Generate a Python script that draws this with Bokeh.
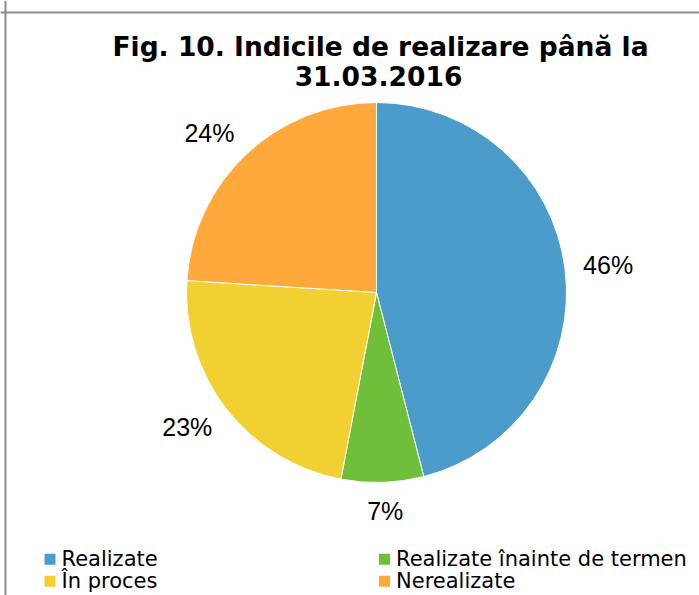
import math
from bokeh.plotting import figure
from bokeh.models import Range1d, Span, ColumnDataSource
from bokeh.core.properties import value
from bokeh.embed import file_html
from bokeh.resources import INLINE

# ---- data ----
categories = ["Realizate", "Realizate înainte de termen", "În proces", "Nerealizate"]
percents = [46, 7, 23, 24]
colors = ["#4B9CCB", "#70BF3A", "#F2D031", "#FFA83C"]
title_lines = ["Fig. 10. Indicile de realizare până la", "31.03.2016"]

# ---- layout (pixel coordinates; y measured downward, stored negated) ----
W, H = 699, 595
CX, CY, R = 376, 292, 190
LABEL_FS = 25
LABEL_GAP = 20
TITLE_FS = 26.5
LEGEND_FS = 21

p = figure(width=W, height=H,
           x_range=Range1d(0, W), y_range=Range1d(-H, 0),
           x_axis_type=None, y_axis_type=None,
           output_backend="svg", toolbar_location=None,
           min_border=0, outline_line_color=None,
           background_fill_color="white", border_fill_color="white")

# chart border (left and top edges visible)
p.add_layout(Span(location=5, dimension="height", line_color="#8C8C8C", line_width=2))
p.add_layout(Span(location=-12, dimension="width", line_color="#8C8C8C", line_width=2))

# ---- pie ----
total = float(sum(percents))
starts, ends, lx, ly, ltxt = [], [], [], [], []
cum = 0.0
for v in percents:
    a0 = math.pi / 2 - 2 * math.pi * cum / total
    cum += v
    a1 = math.pi / 2 - 2 * math.pi * cum / total
    starts.append(a0)
    ends.append(a1)
    mid = (a0 + a1) / 2
    dx, dy = math.cos(mid), math.sin(mid)
    t = f"{v}%"
    half_w = 0.5 * LABEL_FS * (0.556 * (len(t) - 1) + 0.889) * 0.93
    half_h = 0.5 * LABEL_FS * 0.72
    px = CX + (R + LABEL_GAP) * dx
    py = -CY + (R + LABEL_GAP) * dy
    lx.append(px + half_w * max(-1.0, min(1.0, 4 * dx)))
    ly.append(py + half_h * dy)
    ltxt.append(t)

pie_src = ColumnDataSource(dict(start=starts, end=ends, color=colors, cat=categories))
p.wedge(x=CX, y=-CY, radius=R, start_angle="start", end_angle="end",
        direction="clock", fill_color="color", line_color="white", line_width=1,
        source=pie_src)

p.text(x=lx, y=ly, text=ltxt, text_font=value("Liberation Sans"),
       text_font_size=f"{LABEL_FS}px", text_align="center", text_baseline="middle",
       text_color="#000000")

# ---- title (two lines, baselines at 55 and 85) ----
title_base = [55, 85]
p.text(x=[380, 378], y=[-(b - 0.346 * TITLE_FS) for b in title_base], text=title_lines,
       text_font=value("DejaVu Sans"), text_font_style="bold",
       text_font_size=f"{TITLE_FS}px", text_align="center", text_baseline="middle",
       text_color="#000000")

# ---- legend (2 columns) ----
col_x = [49.5, 384]
row_base = [566, 588]
sq_x, sq_y, tx, ty = [], [], [], []
for i, cat in enumerate(categories):
    c, r = i % 2, i // 2
    mid_y = row_base[r] - 0.346 * LEGEND_FS
    sq_x.append(col_x[c])
    sq_y.append(-mid_y)
    tx.append(col_x[c] + 11.5)
    ty.append(-mid_y)
p.scatter(x=sq_x, y=sq_y, marker="square", size=11, fill_color=colors, line_color=None)
p.text(x=tx, y=ty, text=categories, text_font=value("DejaVu Sans"),
       text_font_size=f"{LEGEND_FS}px", text_align="left", text_baseline="middle",
       text_color="#000000")

open("out.html", "w").write(file_html(p, INLINE))
